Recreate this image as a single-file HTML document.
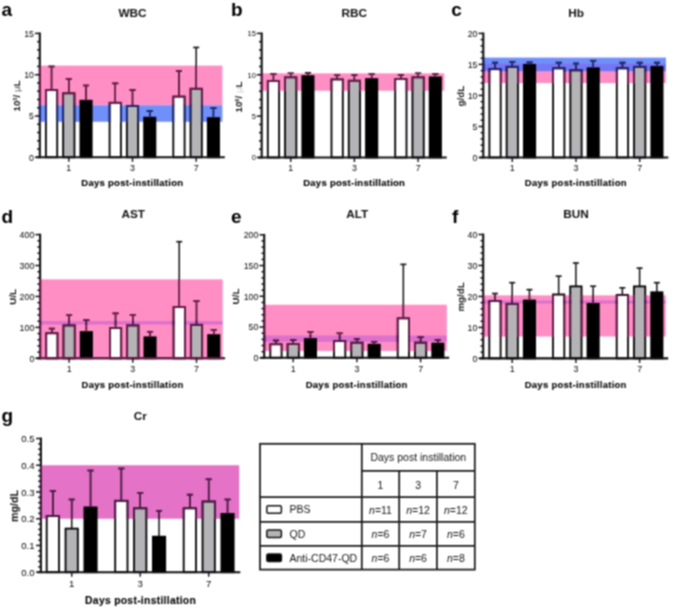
<!DOCTYPE html>
<html><head><meta charset="utf-8"><style>
html,body{margin:0;padding:0;background:#fff;width:675px;height:608px;overflow:hidden}
svg{display:block}
</style></head><body>
<svg width="675" height="608" viewBox="0 0 675 608" font-family='"Liberation Sans", sans-serif'>
<defs><filter id="bl" x="0" y="0" width="1" height="1" color-interpolation-filters="sRGB"><feConvolveMatrix order="3" kernelMatrix="1 2 1 2 4 2 1 2 1" divisor="16" edgeMode="duplicate"/></filter></defs>
<g filter="url(#bl)">
<rect width="675" height="608" fill="#fff"/>
<rect x="39.8" y="65.61" width="182.6" height="39.65" fill="#ff8ec4"/>
<rect x="39.8" y="105.26" width="182.6" height="16.52" fill="#708ffa"/>
<line x1="51.55" y1="89.98" x2="51.55" y2="66.44" stroke="#111" stroke-width="1.5"/>
<line x1="48.55" y1="66.44" x2="54.55" y2="66.44" stroke="#111" stroke-width="1.6"/>
<rect x="45.9" y="89.98" width="11.3" height="67.32" fill="#ffffff" stroke="#000" stroke-width="1.8"/>
<line x1="68.8" y1="93.29" x2="68.8" y2="78.83" stroke="#111" stroke-width="1.5"/>
<line x1="65.8" y1="78.83" x2="71.8" y2="78.83" stroke="#111" stroke-width="1.6"/>
<rect x="63.15" y="93.29" width="11.3" height="64.02" fill="#b4b4b6" stroke="#000" stroke-width="1.8"/>
<line x1="86.05" y1="100.72" x2="86.05" y2="85.44" stroke="#111" stroke-width="1.5"/>
<line x1="83.05" y1="85.44" x2="89.05" y2="85.44" stroke="#111" stroke-width="1.6"/>
<rect x="80.4" y="100.72" width="11.3" height="56.58" fill="#000000" stroke="#000" stroke-width="1.8"/>
<line x1="115.25" y1="102.78" x2="115.25" y2="83.37" stroke="#111" stroke-width="1.5"/>
<line x1="112.25" y1="83.37" x2="118.25" y2="83.37" stroke="#111" stroke-width="1.6"/>
<rect x="109.6" y="102.78" width="11.3" height="54.52" fill="#ffffff" stroke="#000" stroke-width="1.8"/>
<line x1="132.5" y1="106.09" x2="132.5" y2="89.98" stroke="#111" stroke-width="1.5"/>
<line x1="129.5" y1="89.98" x2="135.5" y2="89.98" stroke="#111" stroke-width="1.6"/>
<rect x="126.85" y="106.09" width="11.3" height="51.21" fill="#b4b4b6" stroke="#000" stroke-width="1.8"/>
<line x1="149.75" y1="117.65" x2="149.75" y2="111.04" stroke="#111" stroke-width="1.5"/>
<line x1="146.75" y1="111.04" x2="152.75" y2="111.04" stroke="#111" stroke-width="1.6"/>
<rect x="144.1" y="117.65" width="11.3" height="39.65" fill="#000000" stroke="#000" stroke-width="1.8"/>
<line x1="178.95" y1="96.59" x2="178.95" y2="70.98" stroke="#111" stroke-width="1.5"/>
<line x1="175.95" y1="70.98" x2="181.95" y2="70.98" stroke="#111" stroke-width="1.6"/>
<rect x="173.3" y="96.59" width="11.3" height="60.71" fill="#ffffff" stroke="#000" stroke-width="1.8"/>
<line x1="196.2" y1="88.74" x2="196.2" y2="47.44" stroke="#111" stroke-width="1.5"/>
<line x1="193.2" y1="47.44" x2="199.2" y2="47.44" stroke="#111" stroke-width="1.6"/>
<rect x="190.55" y="88.74" width="11.3" height="68.56" fill="#b4b4b6" stroke="#000" stroke-width="1.8"/>
<line x1="213.45" y1="118.07" x2="213.45" y2="108.15" stroke="#111" stroke-width="1.5"/>
<line x1="210.45" y1="108.15" x2="216.45" y2="108.15" stroke="#111" stroke-width="1.6"/>
<rect x="207.8" y="118.07" width="11.3" height="39.23" fill="#000000" stroke="#000" stroke-width="1.8"/>
<line x1="39.8" y1="32.5" x2="39.8" y2="158.2" stroke="#111" stroke-width="2.1"/>
<line x1="36.3" y1="157.3" x2="224.8" y2="157.3" stroke="#111" stroke-width="2.1"/>
<clipPath id="c1"><rect x="38.3" y="65.11" width="184.6" height="40.65"/></clipPath>
<g clip-path="url(#c1)" stroke="#6a1c4c" fill="none"><line x1="51.55" y1="89.98" x2="51.55" y2="66.44" stroke-width="1.5"/><line x1="48.55" y1="66.44" x2="54.55" y2="66.44" stroke-width="1.6"/><rect x="45.9" y="89.98" width="11.3" height="67.32" fill="none" stroke-width="1.8"/><line x1="68.8" y1="93.29" x2="68.8" y2="78.83" stroke-width="1.5"/><line x1="65.8" y1="78.83" x2="71.8" y2="78.83" stroke-width="1.6"/><rect x="63.15" y="93.29" width="11.3" height="64.02" fill="none" stroke-width="1.8"/><line x1="86.05" y1="100.72" x2="86.05" y2="85.44" stroke-width="1.5"/><line x1="83.05" y1="85.44" x2="89.05" y2="85.44" stroke-width="1.6"/><line x1="115.25" y1="102.78" x2="115.25" y2="83.37" stroke-width="1.5"/><line x1="112.25" y1="83.37" x2="118.25" y2="83.37" stroke-width="1.6"/><rect x="109.6" y="102.78" width="11.3" height="54.52" fill="none" stroke-width="1.8"/><line x1="132.5" y1="106.09" x2="132.5" y2="89.98" stroke-width="1.5"/><line x1="129.5" y1="89.98" x2="135.5" y2="89.98" stroke-width="1.6"/><rect x="126.85" y="106.09" width="11.3" height="51.21" fill="none" stroke-width="1.8"/><line x1="149.75" y1="117.65" x2="149.75" y2="111.04" stroke-width="1.5"/><line x1="146.75" y1="111.04" x2="152.75" y2="111.04" stroke-width="1.6"/><line x1="178.95" y1="96.59" x2="178.95" y2="70.98" stroke-width="1.5"/><line x1="175.95" y1="70.98" x2="181.95" y2="70.98" stroke-width="1.6"/><rect x="173.3" y="96.59" width="11.3" height="60.71" fill="none" stroke-width="1.8"/><line x1="196.2" y1="88.74" x2="196.2" y2="47.44" stroke-width="1.5"/><line x1="193.2" y1="47.44" x2="199.2" y2="47.44" stroke-width="1.6"/><rect x="190.55" y="88.74" width="11.3" height="68.56" fill="none" stroke-width="1.8"/><line x1="213.45" y1="118.07" x2="213.45" y2="108.15" stroke-width="1.5"/><line x1="210.45" y1="108.15" x2="216.45" y2="108.15" stroke-width="1.6"/><line x1="39.8" y1="32.5" x2="39.8" y2="158.2" stroke-width="2.1"/><line x1="36.3" y1="157.3" x2="224.8" y2="157.3" stroke-width="2.1"/></g>
<clipPath id="c2"><rect x="38.3" y="104.76" width="184.6" height="17.52"/></clipPath>
<g clip-path="url(#c2)" stroke="#1e2a70" fill="none"><line x1="51.55" y1="89.98" x2="51.55" y2="66.44" stroke-width="1.5"/><line x1="48.55" y1="66.44" x2="54.55" y2="66.44" stroke-width="1.6"/><rect x="45.9" y="89.98" width="11.3" height="67.32" fill="none" stroke-width="1.8"/><line x1="68.8" y1="93.29" x2="68.8" y2="78.83" stroke-width="1.5"/><line x1="65.8" y1="78.83" x2="71.8" y2="78.83" stroke-width="1.6"/><rect x="63.15" y="93.29" width="11.3" height="64.02" fill="none" stroke-width="1.8"/><line x1="86.05" y1="100.72" x2="86.05" y2="85.44" stroke-width="1.5"/><line x1="83.05" y1="85.44" x2="89.05" y2="85.44" stroke-width="1.6"/><line x1="115.25" y1="102.78" x2="115.25" y2="83.37" stroke-width="1.5"/><line x1="112.25" y1="83.37" x2="118.25" y2="83.37" stroke-width="1.6"/><rect x="109.6" y="102.78" width="11.3" height="54.52" fill="none" stroke-width="1.8"/><line x1="132.5" y1="106.09" x2="132.5" y2="89.98" stroke-width="1.5"/><line x1="129.5" y1="89.98" x2="135.5" y2="89.98" stroke-width="1.6"/><rect x="126.85" y="106.09" width="11.3" height="51.21" fill="none" stroke-width="1.8"/><line x1="149.75" y1="117.65" x2="149.75" y2="111.04" stroke-width="1.5"/><line x1="146.75" y1="111.04" x2="152.75" y2="111.04" stroke-width="1.6"/><line x1="178.95" y1="96.59" x2="178.95" y2="70.98" stroke-width="1.5"/><line x1="175.95" y1="70.98" x2="181.95" y2="70.98" stroke-width="1.6"/><rect x="173.3" y="96.59" width="11.3" height="60.71" fill="none" stroke-width="1.8"/><line x1="196.2" y1="88.74" x2="196.2" y2="47.44" stroke-width="1.5"/><line x1="193.2" y1="47.44" x2="199.2" y2="47.44" stroke-width="1.6"/><rect x="190.55" y="88.74" width="11.3" height="68.56" fill="none" stroke-width="1.8"/><line x1="213.45" y1="118.07" x2="213.45" y2="108.15" stroke-width="1.5"/><line x1="210.45" y1="108.15" x2="216.45" y2="108.15" stroke-width="1.6"/><line x1="39.8" y1="32.5" x2="39.8" y2="158.2" stroke-width="2.1"/><line x1="36.3" y1="157.3" x2="224.8" y2="157.3" stroke-width="2.1"/></g>
<line x1="35" y1="157.3" x2="39.8" y2="157.3" stroke="#111" stroke-width="1.5"/>
<text x="34" y="160.6" font-size="8.8" font-weight="normal" text-anchor="end" fill="#000" >0</text>
<line x1="37.1" y1="149.04" x2="39.8" y2="149.04" stroke="#111" stroke-width="1.5"/>
<line x1="37.1" y1="140.78" x2="39.8" y2="140.78" stroke="#111" stroke-width="1.5"/>
<line x1="37.1" y1="132.52" x2="39.8" y2="132.52" stroke="#111" stroke-width="1.5"/>
<line x1="37.1" y1="124.26" x2="39.8" y2="124.26" stroke="#111" stroke-width="1.5"/>
<line x1="35" y1="116" x2="39.8" y2="116" stroke="#111" stroke-width="1.5"/>
<text x="34" y="119.3" font-size="8.8" font-weight="normal" text-anchor="end" fill="#000" >5</text>
<line x1="37.1" y1="107.74" x2="39.8" y2="107.74" stroke="#111" stroke-width="1.5"/>
<line x1="37.1" y1="99.48" x2="39.8" y2="99.48" stroke="#111" stroke-width="1.5"/>
<line x1="37.1" y1="91.22" x2="39.8" y2="91.22" stroke="#111" stroke-width="1.5"/>
<line x1="37.1" y1="82.96" x2="39.8" y2="82.96" stroke="#111" stroke-width="1.5"/>
<line x1="35" y1="74.7" x2="39.8" y2="74.7" stroke="#111" stroke-width="1.5"/>
<text x="34" y="78" font-size="8.8" font-weight="normal" text-anchor="end" fill="#000" >10</text>
<line x1="37.1" y1="66.44" x2="39.8" y2="66.44" stroke="#111" stroke-width="1.5"/>
<line x1="37.1" y1="58.18" x2="39.8" y2="58.18" stroke="#111" stroke-width="1.5"/>
<line x1="37.1" y1="49.92" x2="39.8" y2="49.92" stroke="#111" stroke-width="1.5"/>
<line x1="37.1" y1="41.66" x2="39.8" y2="41.66" stroke="#111" stroke-width="1.5"/>
<line x1="35" y1="33.4" x2="39.8" y2="33.4" stroke="#111" stroke-width="1.5"/>
<text x="34" y="36.7" font-size="8.8" font-weight="normal" text-anchor="end" fill="#000" >15</text>
<line x1="68.8" y1="157.3" x2="68.8" y2="161.8" stroke="#111" stroke-width="1.4"/>
<text x="68.8" y="171.1" font-size="8.8" font-weight="normal" text-anchor="middle" fill="#000" >1</text>
<line x1="132.5" y1="157.3" x2="132.5" y2="161.8" stroke="#111" stroke-width="1.4"/>
<text x="132.5" y="171.1" font-size="8.8" font-weight="normal" text-anchor="middle" fill="#000" >3</text>
<line x1="196.2" y1="157.3" x2="196.2" y2="161.8" stroke="#111" stroke-width="1.4"/>
<text x="196.2" y="171.1" font-size="8.8" font-weight="normal" text-anchor="middle" fill="#000" >7</text>
<text x="132.3" y="186.4" font-size="9.5" font-weight="bold" text-anchor="middle" fill="#000" letter-spacing="0.27" stroke="#000" stroke-width="0.1">Days post-instillation</text>
<text x="132.5" y="17" font-size="11.8" font-weight="bold" text-anchor="middle" fill="#111" >WBC</text>
<text x="1.5" y="16" font-size="19" font-weight="bold" text-anchor="start" fill="#000" >a</text>
<text transform="translate(19.8,96) rotate(-90)" x="0" y="0" font-size="9.8" font-weight="bold" text-anchor="middle" fill="#111">10<tspan font-size="5.5" dy="-3">3</tspan><tspan dy="3">/ </tspan><tspan font-weight="normal" fill="#555">μ</tspan>L</text>
<rect x="261.7" y="73.36" width="182.6" height="17.37" fill="#ff8ec4"/>
<line x1="273.45" y1="80.89" x2="273.45" y2="73.86" stroke="#111" stroke-width="1.5"/>
<line x1="270.45" y1="73.86" x2="276.45" y2="73.86" stroke="#111" stroke-width="1.6"/>
<rect x="267.8" y="80.89" width="11.3" height="76.61" fill="#ffffff" stroke="#000" stroke-width="1.8"/>
<line x1="290.7" y1="77.33" x2="290.7" y2="73.19" stroke="#111" stroke-width="1.5"/>
<line x1="287.7" y1="73.19" x2="293.7" y2="73.19" stroke="#111" stroke-width="1.6"/>
<rect x="285.05" y="77.33" width="11.3" height="80.17" fill="#b4b4b6" stroke="#000" stroke-width="1.8"/>
<line x1="307.95" y1="76.09" x2="307.95" y2="72.78" stroke="#111" stroke-width="1.5"/>
<line x1="304.95" y1="72.78" x2="310.95" y2="72.78" stroke="#111" stroke-width="1.6"/>
<rect x="302.3" y="76.09" width="11.3" height="81.41" fill="#000000" stroke="#000" stroke-width="1.8"/>
<line x1="337.15" y1="79.4" x2="337.15" y2="75.26" stroke="#111" stroke-width="1.5"/>
<line x1="334.15" y1="75.26" x2="340.15" y2="75.26" stroke="#111" stroke-width="1.6"/>
<rect x="331.5" y="79.4" width="11.3" height="78.1" fill="#ffffff" stroke="#000" stroke-width="1.8"/>
<line x1="354.4" y1="80.72" x2="354.4" y2="74.93" stroke="#111" stroke-width="1.5"/>
<line x1="351.4" y1="74.93" x2="357.4" y2="74.93" stroke="#111" stroke-width="1.6"/>
<rect x="348.75" y="80.72" width="11.3" height="76.78" fill="#b4b4b6" stroke="#000" stroke-width="1.8"/>
<line x1="371.65" y1="79.07" x2="371.65" y2="74.1" stroke="#111" stroke-width="1.5"/>
<line x1="368.65" y1="74.1" x2="374.65" y2="74.1" stroke="#111" stroke-width="1.6"/>
<rect x="366" y="79.07" width="11.3" height="78.43" fill="#000000" stroke="#000" stroke-width="1.8"/>
<line x1="400.85" y1="79.07" x2="400.85" y2="74.93" stroke="#111" stroke-width="1.5"/>
<line x1="397.85" y1="74.93" x2="403.85" y2="74.93" stroke="#111" stroke-width="1.6"/>
<rect x="395.2" y="79.07" width="11.3" height="78.43" fill="#ffffff" stroke="#000" stroke-width="1.8"/>
<line x1="418.1" y1="77.33" x2="418.1" y2="73.19" stroke="#111" stroke-width="1.5"/>
<line x1="415.1" y1="73.19" x2="421.1" y2="73.19" stroke="#111" stroke-width="1.6"/>
<rect x="412.45" y="77.33" width="11.3" height="80.17" fill="#b4b4b6" stroke="#000" stroke-width="1.8"/>
<line x1="435.35" y1="77.33" x2="435.35" y2="74.02" stroke="#111" stroke-width="1.5"/>
<line x1="432.35" y1="74.02" x2="438.35" y2="74.02" stroke="#111" stroke-width="1.6"/>
<rect x="429.7" y="77.33" width="11.3" height="80.17" fill="#000000" stroke="#000" stroke-width="1.8"/>
<line x1="261.7" y1="32.5" x2="261.7" y2="158.4" stroke="#111" stroke-width="2.1"/>
<line x1="258.2" y1="157.5" x2="446.7" y2="157.5" stroke="#111" stroke-width="2.1"/>
<clipPath id="c3"><rect x="260.2" y="72.86" width="184.6" height="18.37"/></clipPath>
<g clip-path="url(#c3)" stroke="#6a1c4c" fill="none"><line x1="273.45" y1="80.89" x2="273.45" y2="73.86" stroke-width="1.5"/><line x1="270.45" y1="73.86" x2="276.45" y2="73.86" stroke-width="1.6"/><rect x="267.8" y="80.89" width="11.3" height="76.61" fill="none" stroke-width="1.8"/><line x1="290.7" y1="77.33" x2="290.7" y2="73.19" stroke-width="1.5"/><line x1="287.7" y1="73.19" x2="293.7" y2="73.19" stroke-width="1.6"/><rect x="285.05" y="77.33" width="11.3" height="80.17" fill="none" stroke-width="1.8"/><line x1="307.95" y1="76.09" x2="307.95" y2="72.78" stroke-width="1.5"/><line x1="304.95" y1="72.78" x2="310.95" y2="72.78" stroke-width="1.6"/><line x1="337.15" y1="79.4" x2="337.15" y2="75.26" stroke-width="1.5"/><line x1="334.15" y1="75.26" x2="340.15" y2="75.26" stroke-width="1.6"/><rect x="331.5" y="79.4" width="11.3" height="78.1" fill="none" stroke-width="1.8"/><line x1="354.4" y1="80.72" x2="354.4" y2="74.93" stroke-width="1.5"/><line x1="351.4" y1="74.93" x2="357.4" y2="74.93" stroke-width="1.6"/><rect x="348.75" y="80.72" width="11.3" height="76.78" fill="none" stroke-width="1.8"/><line x1="371.65" y1="79.07" x2="371.65" y2="74.1" stroke-width="1.5"/><line x1="368.65" y1="74.1" x2="374.65" y2="74.1" stroke-width="1.6"/><line x1="400.85" y1="79.07" x2="400.85" y2="74.93" stroke-width="1.5"/><line x1="397.85" y1="74.93" x2="403.85" y2="74.93" stroke-width="1.6"/><rect x="395.2" y="79.07" width="11.3" height="78.43" fill="none" stroke-width="1.8"/><line x1="418.1" y1="77.33" x2="418.1" y2="73.19" stroke-width="1.5"/><line x1="415.1" y1="73.19" x2="421.1" y2="73.19" stroke-width="1.6"/><rect x="412.45" y="77.33" width="11.3" height="80.17" fill="none" stroke-width="1.8"/><line x1="435.35" y1="77.33" x2="435.35" y2="74.02" stroke-width="1.5"/><line x1="432.35" y1="74.02" x2="438.35" y2="74.02" stroke-width="1.6"/><line x1="261.7" y1="32.5" x2="261.7" y2="158.4" stroke-width="2.1"/><line x1="258.2" y1="157.5" x2="446.7" y2="157.5" stroke-width="2.1"/></g>
<line x1="256.9" y1="157.5" x2="261.7" y2="157.5" stroke="#111" stroke-width="1.5"/>
<text x="255.9" y="160.35" font-size="7.6" font-weight="normal" text-anchor="end" fill="#000" >0</text>
<line x1="259" y1="149.23" x2="261.7" y2="149.23" stroke="#111" stroke-width="1.5"/>
<line x1="259" y1="140.95" x2="261.7" y2="140.95" stroke="#111" stroke-width="1.5"/>
<line x1="259" y1="132.68" x2="261.7" y2="132.68" stroke="#111" stroke-width="1.5"/>
<line x1="259" y1="124.41" x2="261.7" y2="124.41" stroke="#111" stroke-width="1.5"/>
<line x1="256.9" y1="116.13" x2="261.7" y2="116.13" stroke="#111" stroke-width="1.5"/>
<text x="255.9" y="118.98" font-size="7.6" font-weight="normal" text-anchor="end" fill="#000" >5</text>
<line x1="259" y1="107.86" x2="261.7" y2="107.86" stroke="#111" stroke-width="1.5"/>
<line x1="259" y1="99.59" x2="261.7" y2="99.59" stroke="#111" stroke-width="1.5"/>
<line x1="259" y1="91.31" x2="261.7" y2="91.31" stroke="#111" stroke-width="1.5"/>
<line x1="259" y1="83.04" x2="261.7" y2="83.04" stroke="#111" stroke-width="1.5"/>
<line x1="256.9" y1="74.77" x2="261.7" y2="74.77" stroke="#111" stroke-width="1.5"/>
<text x="255.9" y="77.62" font-size="7.6" font-weight="normal" text-anchor="end" fill="#000" >10</text>
<line x1="259" y1="66.49" x2="261.7" y2="66.49" stroke="#111" stroke-width="1.5"/>
<line x1="259" y1="58.22" x2="261.7" y2="58.22" stroke="#111" stroke-width="1.5"/>
<line x1="259" y1="49.95" x2="261.7" y2="49.95" stroke="#111" stroke-width="1.5"/>
<line x1="259" y1="41.67" x2="261.7" y2="41.67" stroke="#111" stroke-width="1.5"/>
<line x1="256.9" y1="33.4" x2="261.7" y2="33.4" stroke="#111" stroke-width="1.5"/>
<text x="255.9" y="36.25" font-size="7.6" font-weight="normal" text-anchor="end" fill="#000" >15</text>
<line x1="290.7" y1="157.5" x2="290.7" y2="162" stroke="#111" stroke-width="1.4"/>
<text x="290.7" y="171.3" font-size="8.8" font-weight="normal" text-anchor="middle" fill="#000" >1</text>
<line x1="354.4" y1="157.5" x2="354.4" y2="162" stroke="#111" stroke-width="1.4"/>
<text x="354.4" y="171.3" font-size="8.8" font-weight="normal" text-anchor="middle" fill="#000" >3</text>
<line x1="418.1" y1="157.5" x2="418.1" y2="162" stroke="#111" stroke-width="1.4"/>
<text x="418.1" y="171.3" font-size="8.8" font-weight="normal" text-anchor="middle" fill="#000" >7</text>
<text x="354.2" y="186.4" font-size="9.5" font-weight="bold" text-anchor="middle" fill="#000" letter-spacing="0.27" stroke="#000" stroke-width="0.1">Days post-instillation</text>
<text x="354.3" y="17" font-size="11.8" font-weight="bold" text-anchor="middle" fill="#111" >RBC</text>
<text x="231" y="16" font-size="19" font-weight="bold" text-anchor="start" fill="#000" >b</text>
<text transform="translate(241.8,97) rotate(-90)" x="0" y="0" font-size="9.8" font-weight="bold" text-anchor="middle" fill="#111">10<tspan font-size="5.5" dy="-3">6</tspan><tspan dy="3">/ </tspan><tspan font-weight="normal" fill="#ccc">μ</tspan>L</text>
<rect x="483.3" y="71.25" width="182.6" height="11.79" fill="#ff8ec4"/>
<rect x="483.3" y="57.6" width="182.6" height="13.65" fill="#708ffa"/>
<rect x="483.3" y="63.8" width="182.6" height="7.45" fill="#7676f2"/>
<line x1="495.05" y1="69.14" x2="495.05" y2="62.63" stroke="#111" stroke-width="1.5"/>
<line x1="492.05" y1="62.63" x2="498.05" y2="62.63" stroke="#111" stroke-width="1.6"/>
<rect x="489.4" y="69.14" width="11.3" height="88.36" fill="#ffffff" stroke="#000" stroke-width="1.8"/>
<line x1="512.3" y1="66.84" x2="512.3" y2="61.76" stroke="#111" stroke-width="1.5"/>
<line x1="509.3" y1="61.76" x2="515.3" y2="61.76" stroke="#111" stroke-width="1.6"/>
<rect x="506.65" y="66.84" width="11.3" height="90.66" fill="#b4b4b6" stroke="#000" stroke-width="1.8"/>
<line x1="529.55" y1="64.86" x2="529.55" y2="62.38" stroke="#111" stroke-width="1.5"/>
<line x1="526.55" y1="62.38" x2="532.55" y2="62.38" stroke="#111" stroke-width="1.6"/>
<rect x="523.9" y="64.86" width="11.3" height="92.64" fill="#000000" stroke="#000" stroke-width="1.8"/>
<line x1="558.75" y1="68.27" x2="558.75" y2="62.63" stroke="#111" stroke-width="1.5"/>
<line x1="555.75" y1="62.63" x2="561.75" y2="62.63" stroke="#111" stroke-width="1.6"/>
<rect x="553.1" y="68.27" width="11.3" height="89.23" fill="#ffffff" stroke="#000" stroke-width="1.8"/>
<line x1="576" y1="70.26" x2="576" y2="63.43" stroke="#111" stroke-width="1.5"/>
<line x1="573" y1="63.43" x2="579" y2="63.43" stroke="#111" stroke-width="1.6"/>
<rect x="570.35" y="70.26" width="11.3" height="87.24" fill="#b4b4b6" stroke="#000" stroke-width="1.8"/>
<line x1="593.25" y1="68.27" x2="593.25" y2="60.7" stroke="#111" stroke-width="1.5"/>
<line x1="590.25" y1="60.7" x2="596.25" y2="60.7" stroke="#111" stroke-width="1.6"/>
<rect x="587.6" y="68.27" width="11.3" height="89.23" fill="#000000" stroke="#000" stroke-width="1.8"/>
<line x1="622.45" y1="68.27" x2="622.45" y2="62.63" stroke="#111" stroke-width="1.5"/>
<line x1="619.45" y1="62.63" x2="625.45" y2="62.63" stroke="#111" stroke-width="1.6"/>
<rect x="616.8" y="68.27" width="11.3" height="89.23" fill="#ffffff" stroke="#000" stroke-width="1.8"/>
<line x1="639.7" y1="66.84" x2="639.7" y2="62.63" stroke="#111" stroke-width="1.5"/>
<line x1="636.7" y1="62.63" x2="642.7" y2="62.63" stroke="#111" stroke-width="1.6"/>
<rect x="634.05" y="66.84" width="11.3" height="90.66" fill="#b4b4b6" stroke="#000" stroke-width="1.8"/>
<line x1="656.95" y1="66.84" x2="656.95" y2="62.63" stroke="#111" stroke-width="1.5"/>
<line x1="653.95" y1="62.63" x2="659.95" y2="62.63" stroke="#111" stroke-width="1.6"/>
<rect x="651.3" y="66.84" width="11.3" height="90.66" fill="#000000" stroke="#000" stroke-width="1.8"/>
<line x1="483.3" y1="32.5" x2="483.3" y2="158.4" stroke="#111" stroke-width="2.1"/>
<line x1="479.8" y1="157.5" x2="668.3" y2="157.5" stroke="#111" stroke-width="2.1"/>
<clipPath id="c4"><rect x="481.8" y="70.75" width="184.6" height="12.79"/></clipPath>
<g clip-path="url(#c4)" stroke="#6a1c4c" fill="none"><line x1="495.05" y1="69.14" x2="495.05" y2="62.63" stroke-width="1.5"/><line x1="492.05" y1="62.63" x2="498.05" y2="62.63" stroke-width="1.6"/><rect x="489.4" y="69.14" width="11.3" height="88.36" fill="none" stroke-width="1.8"/><line x1="512.3" y1="66.84" x2="512.3" y2="61.76" stroke-width="1.5"/><line x1="509.3" y1="61.76" x2="515.3" y2="61.76" stroke-width="1.6"/><rect x="506.65" y="66.84" width="11.3" height="90.66" fill="none" stroke-width="1.8"/><line x1="529.55" y1="64.86" x2="529.55" y2="62.38" stroke-width="1.5"/><line x1="526.55" y1="62.38" x2="532.55" y2="62.38" stroke-width="1.6"/><line x1="558.75" y1="68.27" x2="558.75" y2="62.63" stroke-width="1.5"/><line x1="555.75" y1="62.63" x2="561.75" y2="62.63" stroke-width="1.6"/><rect x="553.1" y="68.27" width="11.3" height="89.23" fill="none" stroke-width="1.8"/><line x1="576" y1="70.26" x2="576" y2="63.43" stroke-width="1.5"/><line x1="573" y1="63.43" x2="579" y2="63.43" stroke-width="1.6"/><rect x="570.35" y="70.26" width="11.3" height="87.24" fill="none" stroke-width="1.8"/><line x1="593.25" y1="68.27" x2="593.25" y2="60.7" stroke-width="1.5"/><line x1="590.25" y1="60.7" x2="596.25" y2="60.7" stroke-width="1.6"/><line x1="622.45" y1="68.27" x2="622.45" y2="62.63" stroke-width="1.5"/><line x1="619.45" y1="62.63" x2="625.45" y2="62.63" stroke-width="1.6"/><rect x="616.8" y="68.27" width="11.3" height="89.23" fill="none" stroke-width="1.8"/><line x1="639.7" y1="66.84" x2="639.7" y2="62.63" stroke-width="1.5"/><line x1="636.7" y1="62.63" x2="642.7" y2="62.63" stroke-width="1.6"/><rect x="634.05" y="66.84" width="11.3" height="90.66" fill="none" stroke-width="1.8"/><line x1="656.95" y1="66.84" x2="656.95" y2="62.63" stroke-width="1.5"/><line x1="653.95" y1="62.63" x2="659.95" y2="62.63" stroke-width="1.6"/><line x1="483.3" y1="32.5" x2="483.3" y2="158.4" stroke-width="2.1"/><line x1="479.8" y1="157.5" x2="668.3" y2="157.5" stroke-width="2.1"/></g>
<clipPath id="c5"><rect x="481.8" y="57.1" width="184.6" height="14.65"/></clipPath>
<g clip-path="url(#c5)" stroke="#1e2a70" fill="none"><line x1="495.05" y1="69.14" x2="495.05" y2="62.63" stroke-width="1.5"/><line x1="492.05" y1="62.63" x2="498.05" y2="62.63" stroke-width="1.6"/><rect x="489.4" y="69.14" width="11.3" height="88.36" fill="none" stroke-width="1.8"/><line x1="512.3" y1="66.84" x2="512.3" y2="61.76" stroke-width="1.5"/><line x1="509.3" y1="61.76" x2="515.3" y2="61.76" stroke-width="1.6"/><rect x="506.65" y="66.84" width="11.3" height="90.66" fill="none" stroke-width="1.8"/><line x1="529.55" y1="64.86" x2="529.55" y2="62.38" stroke-width="1.5"/><line x1="526.55" y1="62.38" x2="532.55" y2="62.38" stroke-width="1.6"/><line x1="558.75" y1="68.27" x2="558.75" y2="62.63" stroke-width="1.5"/><line x1="555.75" y1="62.63" x2="561.75" y2="62.63" stroke-width="1.6"/><rect x="553.1" y="68.27" width="11.3" height="89.23" fill="none" stroke-width="1.8"/><line x1="576" y1="70.26" x2="576" y2="63.43" stroke-width="1.5"/><line x1="573" y1="63.43" x2="579" y2="63.43" stroke-width="1.6"/><rect x="570.35" y="70.26" width="11.3" height="87.24" fill="none" stroke-width="1.8"/><line x1="593.25" y1="68.27" x2="593.25" y2="60.7" stroke-width="1.5"/><line x1="590.25" y1="60.7" x2="596.25" y2="60.7" stroke-width="1.6"/><line x1="622.45" y1="68.27" x2="622.45" y2="62.63" stroke-width="1.5"/><line x1="619.45" y1="62.63" x2="625.45" y2="62.63" stroke-width="1.6"/><rect x="616.8" y="68.27" width="11.3" height="89.23" fill="none" stroke-width="1.8"/><line x1="639.7" y1="66.84" x2="639.7" y2="62.63" stroke-width="1.5"/><line x1="636.7" y1="62.63" x2="642.7" y2="62.63" stroke-width="1.6"/><rect x="634.05" y="66.84" width="11.3" height="90.66" fill="none" stroke-width="1.8"/><line x1="656.95" y1="66.84" x2="656.95" y2="62.63" stroke-width="1.5"/><line x1="653.95" y1="62.63" x2="659.95" y2="62.63" stroke-width="1.6"/><line x1="483.3" y1="32.5" x2="483.3" y2="158.4" stroke-width="2.1"/><line x1="479.8" y1="157.5" x2="668.3" y2="157.5" stroke-width="2.1"/></g>
<clipPath id="c6"><rect x="481.8" y="63.3" width="184.6" height="8.45"/></clipPath>
<g clip-path="url(#c6)" stroke="#2a2470" fill="none"><line x1="495.05" y1="69.14" x2="495.05" y2="62.63" stroke-width="1.5"/><line x1="492.05" y1="62.63" x2="498.05" y2="62.63" stroke-width="1.6"/><rect x="489.4" y="69.14" width="11.3" height="88.36" fill="none" stroke-width="1.8"/><line x1="512.3" y1="66.84" x2="512.3" y2="61.76" stroke-width="1.5"/><line x1="509.3" y1="61.76" x2="515.3" y2="61.76" stroke-width="1.6"/><rect x="506.65" y="66.84" width="11.3" height="90.66" fill="none" stroke-width="1.8"/><line x1="529.55" y1="64.86" x2="529.55" y2="62.38" stroke-width="1.5"/><line x1="526.55" y1="62.38" x2="532.55" y2="62.38" stroke-width="1.6"/><line x1="558.75" y1="68.27" x2="558.75" y2="62.63" stroke-width="1.5"/><line x1="555.75" y1="62.63" x2="561.75" y2="62.63" stroke-width="1.6"/><rect x="553.1" y="68.27" width="11.3" height="89.23" fill="none" stroke-width="1.8"/><line x1="576" y1="70.26" x2="576" y2="63.43" stroke-width="1.5"/><line x1="573" y1="63.43" x2="579" y2="63.43" stroke-width="1.6"/><rect x="570.35" y="70.26" width="11.3" height="87.24" fill="none" stroke-width="1.8"/><line x1="593.25" y1="68.27" x2="593.25" y2="60.7" stroke-width="1.5"/><line x1="590.25" y1="60.7" x2="596.25" y2="60.7" stroke-width="1.6"/><line x1="622.45" y1="68.27" x2="622.45" y2="62.63" stroke-width="1.5"/><line x1="619.45" y1="62.63" x2="625.45" y2="62.63" stroke-width="1.6"/><rect x="616.8" y="68.27" width="11.3" height="89.23" fill="none" stroke-width="1.8"/><line x1="639.7" y1="66.84" x2="639.7" y2="62.63" stroke-width="1.5"/><line x1="636.7" y1="62.63" x2="642.7" y2="62.63" stroke-width="1.6"/><rect x="634.05" y="66.84" width="11.3" height="90.66" fill="none" stroke-width="1.8"/><line x1="656.95" y1="66.84" x2="656.95" y2="62.63" stroke-width="1.5"/><line x1="653.95" y1="62.63" x2="659.95" y2="62.63" stroke-width="1.6"/><line x1="483.3" y1="32.5" x2="483.3" y2="158.4" stroke-width="2.1"/><line x1="479.8" y1="157.5" x2="668.3" y2="157.5" stroke-width="2.1"/></g>
<line x1="478.5" y1="157.5" x2="483.3" y2="157.5" stroke="#111" stroke-width="1.5"/>
<text x="477.5" y="160.8" font-size="8.8" font-weight="normal" text-anchor="end" fill="#000" >0</text>
<line x1="480.6" y1="151.29" x2="483.3" y2="151.29" stroke="#111" stroke-width="1.5"/>
<line x1="480.6" y1="145.09" x2="483.3" y2="145.09" stroke="#111" stroke-width="1.5"/>
<line x1="480.6" y1="138.88" x2="483.3" y2="138.88" stroke="#111" stroke-width="1.5"/>
<line x1="480.6" y1="132.68" x2="483.3" y2="132.68" stroke="#111" stroke-width="1.5"/>
<line x1="478.5" y1="126.47" x2="483.3" y2="126.47" stroke="#111" stroke-width="1.5"/>
<text x="477.5" y="129.78" font-size="8.8" font-weight="normal" text-anchor="end" fill="#000" >5</text>
<line x1="480.6" y1="120.27" x2="483.3" y2="120.27" stroke="#111" stroke-width="1.5"/>
<line x1="480.6" y1="114.06" x2="483.3" y2="114.06" stroke="#111" stroke-width="1.5"/>
<line x1="480.6" y1="107.86" x2="483.3" y2="107.86" stroke="#111" stroke-width="1.5"/>
<line x1="480.6" y1="101.66" x2="483.3" y2="101.66" stroke="#111" stroke-width="1.5"/>
<line x1="478.5" y1="95.45" x2="483.3" y2="95.45" stroke="#111" stroke-width="1.5"/>
<text x="477.5" y="98.75" font-size="8.8" font-weight="normal" text-anchor="end" fill="#000" >10</text>
<line x1="480.6" y1="89.25" x2="483.3" y2="89.25" stroke="#111" stroke-width="1.5"/>
<line x1="480.6" y1="83.04" x2="483.3" y2="83.04" stroke="#111" stroke-width="1.5"/>
<line x1="480.6" y1="76.83" x2="483.3" y2="76.83" stroke="#111" stroke-width="1.5"/>
<line x1="480.6" y1="70.63" x2="483.3" y2="70.63" stroke="#111" stroke-width="1.5"/>
<line x1="478.5" y1="64.42" x2="483.3" y2="64.42" stroke="#111" stroke-width="1.5"/>
<text x="477.5" y="67.72" font-size="8.8" font-weight="normal" text-anchor="end" fill="#000" >15</text>
<line x1="480.6" y1="58.22" x2="483.3" y2="58.22" stroke="#111" stroke-width="1.5"/>
<line x1="480.6" y1="52.02" x2="483.3" y2="52.02" stroke="#111" stroke-width="1.5"/>
<line x1="480.6" y1="45.81" x2="483.3" y2="45.81" stroke="#111" stroke-width="1.5"/>
<line x1="480.6" y1="39.61" x2="483.3" y2="39.61" stroke="#111" stroke-width="1.5"/>
<line x1="478.5" y1="33.4" x2="483.3" y2="33.4" stroke="#111" stroke-width="1.5"/>
<text x="477.5" y="36.7" font-size="8.8" font-weight="normal" text-anchor="end" fill="#000" >20</text>
<line x1="512.3" y1="157.5" x2="512.3" y2="162" stroke="#111" stroke-width="1.4"/>
<text x="512.3" y="171.3" font-size="8.8" font-weight="normal" text-anchor="middle" fill="#000" >1</text>
<line x1="576" y1="157.5" x2="576" y2="162" stroke="#111" stroke-width="1.4"/>
<text x="576" y="171.3" font-size="8.8" font-weight="normal" text-anchor="middle" fill="#000" >3</text>
<line x1="639.7" y1="157.5" x2="639.7" y2="162" stroke="#111" stroke-width="1.4"/>
<text x="639.7" y="171.3" font-size="8.8" font-weight="normal" text-anchor="middle" fill="#000" >7</text>
<text x="575.8" y="186.2" font-size="9.5" font-weight="bold" text-anchor="middle" fill="#000" letter-spacing="0.27" stroke="#000" stroke-width="0.1">Days post-instillation</text>
<text x="576" y="17" font-size="11.8" font-weight="bold" text-anchor="middle" fill="#111" >Hb</text>
<text x="451.2" y="16" font-size="19" font-weight="bold" text-anchor="start" fill="#000" >c</text>
<text transform="translate(463.5,96.2) rotate(-90)" x="0" y="0" font-size="9.8" font-weight="bold" text-anchor="middle" fill="#111">g/dL</text>
<rect x="40.1" y="279.35" width="182.6" height="78.95" fill="#ff8ec4"/>
<rect x="40.1" y="321.1" width="182.6" height="3.43" fill="#dc70cc"/>
<line x1="51.85" y1="333.25" x2="51.85" y2="328.58" stroke="#111" stroke-width="1.5"/>
<line x1="48.85" y1="328.58" x2="54.85" y2="328.58" stroke="#111" stroke-width="1.6"/>
<rect x="46.2" y="333.25" width="11.3" height="25.05" fill="#ffffff" stroke="#000" stroke-width="1.8"/>
<line x1="69.1" y1="325.46" x2="69.1" y2="315.19" stroke="#111" stroke-width="1.5"/>
<line x1="66.1" y1="315.19" x2="72.1" y2="315.19" stroke="#111" stroke-width="1.6"/>
<rect x="63.45" y="325.46" width="11.3" height="32.84" fill="#b4b4b6" stroke="#000" stroke-width="1.8"/>
<line x1="86.35" y1="332.01" x2="86.35" y2="320.17" stroke="#111" stroke-width="1.5"/>
<line x1="83.35" y1="320.17" x2="89.35" y2="320.17" stroke="#111" stroke-width="1.6"/>
<rect x="80.7" y="332.01" width="11.3" height="26.29" fill="#000000" stroke="#000" stroke-width="1.8"/>
<line x1="115.55" y1="327.96" x2="115.55" y2="313.34" stroke="#111" stroke-width="1.5"/>
<line x1="112.55" y1="313.34" x2="118.55" y2="313.34" stroke="#111" stroke-width="1.6"/>
<rect x="109.9" y="327.96" width="11.3" height="30.34" fill="#ffffff" stroke="#000" stroke-width="1.8"/>
<line x1="132.8" y1="325.46" x2="132.8" y2="314.88" stroke="#111" stroke-width="1.5"/>
<line x1="129.8" y1="314.88" x2="135.8" y2="314.88" stroke="#111" stroke-width="1.6"/>
<rect x="127.15" y="325.46" width="11.3" height="32.84" fill="#b4b4b6" stroke="#000" stroke-width="1.8"/>
<line x1="150.05" y1="337.3" x2="150.05" y2="331.7" stroke="#111" stroke-width="1.5"/>
<line x1="147.05" y1="331.7" x2="153.05" y2="331.7" stroke="#111" stroke-width="1.6"/>
<rect x="144.4" y="337.3" width="11.3" height="21" fill="#000000" stroke="#000" stroke-width="1.8"/>
<line x1="179.25" y1="307.09" x2="179.25" y2="241.68" stroke="#111" stroke-width="1.5"/>
<line x1="176.25" y1="241.68" x2="182.25" y2="241.68" stroke="#111" stroke-width="1.6"/>
<rect x="173.6" y="307.09" width="11.3" height="51.21" fill="#ffffff" stroke="#000" stroke-width="1.8"/>
<line x1="196.5" y1="324.84" x2="196.5" y2="301.15" stroke="#111" stroke-width="1.5"/>
<line x1="193.5" y1="301.15" x2="199.5" y2="301.15" stroke="#111" stroke-width="1.6"/>
<rect x="190.85" y="324.84" width="11.3" height="33.46" fill="#b4b4b6" stroke="#000" stroke-width="1.8"/>
<line x1="213.75" y1="335.11" x2="213.75" y2="329.82" stroke="#111" stroke-width="1.5"/>
<line x1="210.75" y1="329.82" x2="216.75" y2="329.82" stroke="#111" stroke-width="1.6"/>
<rect x="208.1" y="335.11" width="11.3" height="23.19" fill="#000000" stroke="#000" stroke-width="1.8"/>
<line x1="40.1" y1="233.7" x2="40.1" y2="359.2" stroke="#111" stroke-width="2.1"/>
<line x1="36.6" y1="358.3" x2="225.1" y2="358.3" stroke="#111" stroke-width="2.1"/>
<clipPath id="c7"><rect x="38.6" y="278.85" width="184.6" height="81.45"/></clipPath>
<g clip-path="url(#c7)" stroke="#6a1c4c" fill="none"><line x1="51.85" y1="333.25" x2="51.85" y2="328.58" stroke-width="1.5"/><line x1="48.85" y1="328.58" x2="54.85" y2="328.58" stroke-width="1.6"/><rect x="46.2" y="333.25" width="11.3" height="25.05" fill="none" stroke-width="1.8"/><line x1="69.1" y1="325.46" x2="69.1" y2="315.19" stroke-width="1.5"/><line x1="66.1" y1="315.19" x2="72.1" y2="315.19" stroke-width="1.6"/><rect x="63.45" y="325.46" width="11.3" height="32.84" fill="none" stroke-width="1.8"/><line x1="86.35" y1="332.01" x2="86.35" y2="320.17" stroke-width="1.5"/><line x1="83.35" y1="320.17" x2="89.35" y2="320.17" stroke-width="1.6"/><line x1="115.55" y1="327.96" x2="115.55" y2="313.34" stroke-width="1.5"/><line x1="112.55" y1="313.34" x2="118.55" y2="313.34" stroke-width="1.6"/><rect x="109.9" y="327.96" width="11.3" height="30.34" fill="none" stroke-width="1.8"/><line x1="132.8" y1="325.46" x2="132.8" y2="314.88" stroke-width="1.5"/><line x1="129.8" y1="314.88" x2="135.8" y2="314.88" stroke-width="1.6"/><rect x="127.15" y="325.46" width="11.3" height="32.84" fill="none" stroke-width="1.8"/><line x1="150.05" y1="337.3" x2="150.05" y2="331.7" stroke-width="1.5"/><line x1="147.05" y1="331.7" x2="153.05" y2="331.7" stroke-width="1.6"/><line x1="179.25" y1="307.09" x2="179.25" y2="241.68" stroke-width="1.5"/><line x1="176.25" y1="241.68" x2="182.25" y2="241.68" stroke-width="1.6"/><rect x="173.6" y="307.09" width="11.3" height="51.21" fill="none" stroke-width="1.8"/><line x1="196.5" y1="324.84" x2="196.5" y2="301.15" stroke-width="1.5"/><line x1="193.5" y1="301.15" x2="199.5" y2="301.15" stroke-width="1.6"/><rect x="190.85" y="324.84" width="11.3" height="33.46" fill="none" stroke-width="1.8"/><line x1="213.75" y1="335.11" x2="213.75" y2="329.82" stroke-width="1.5"/><line x1="210.75" y1="329.82" x2="216.75" y2="329.82" stroke-width="1.6"/><line x1="40.1" y1="233.7" x2="40.1" y2="359.2" stroke-width="2.1"/><line x1="36.6" y1="358.3" x2="225.1" y2="358.3" stroke-width="2.1"/></g>
<clipPath id="c8"><rect x="38.6" y="320.6" width="184.6" height="4.43"/></clipPath>
<g clip-path="url(#c8)" stroke="#501a50" fill="none"><line x1="51.85" y1="333.25" x2="51.85" y2="328.58" stroke-width="1.5"/><line x1="48.85" y1="328.58" x2="54.85" y2="328.58" stroke-width="1.6"/><rect x="46.2" y="333.25" width="11.3" height="25.05" fill="none" stroke-width="1.8"/><line x1="69.1" y1="325.46" x2="69.1" y2="315.19" stroke-width="1.5"/><line x1="66.1" y1="315.19" x2="72.1" y2="315.19" stroke-width="1.6"/><rect x="63.45" y="325.46" width="11.3" height="32.84" fill="none" stroke-width="1.8"/><line x1="86.35" y1="332.01" x2="86.35" y2="320.17" stroke-width="1.5"/><line x1="83.35" y1="320.17" x2="89.35" y2="320.17" stroke-width="1.6"/><line x1="115.55" y1="327.96" x2="115.55" y2="313.34" stroke-width="1.5"/><line x1="112.55" y1="313.34" x2="118.55" y2="313.34" stroke-width="1.6"/><rect x="109.9" y="327.96" width="11.3" height="30.34" fill="none" stroke-width="1.8"/><line x1="132.8" y1="325.46" x2="132.8" y2="314.88" stroke-width="1.5"/><line x1="129.8" y1="314.88" x2="135.8" y2="314.88" stroke-width="1.6"/><rect x="127.15" y="325.46" width="11.3" height="32.84" fill="none" stroke-width="1.8"/><line x1="150.05" y1="337.3" x2="150.05" y2="331.7" stroke-width="1.5"/><line x1="147.05" y1="331.7" x2="153.05" y2="331.7" stroke-width="1.6"/><line x1="179.25" y1="307.09" x2="179.25" y2="241.68" stroke-width="1.5"/><line x1="176.25" y1="241.68" x2="182.25" y2="241.68" stroke-width="1.6"/><rect x="173.6" y="307.09" width="11.3" height="51.21" fill="none" stroke-width="1.8"/><line x1="196.5" y1="324.84" x2="196.5" y2="301.15" stroke-width="1.5"/><line x1="193.5" y1="301.15" x2="199.5" y2="301.15" stroke-width="1.6"/><rect x="190.85" y="324.84" width="11.3" height="33.46" fill="none" stroke-width="1.8"/><line x1="213.75" y1="335.11" x2="213.75" y2="329.82" stroke-width="1.5"/><line x1="210.75" y1="329.82" x2="216.75" y2="329.82" stroke-width="1.6"/><line x1="40.1" y1="233.7" x2="40.1" y2="359.2" stroke-width="2.1"/><line x1="36.6" y1="358.3" x2="225.1" y2="358.3" stroke-width="2.1"/></g>
<line x1="35.3" y1="358.3" x2="40.1" y2="358.3" stroke="#111" stroke-width="1.5"/>
<text x="34.3" y="361.6" font-size="8.8" font-weight="normal" text-anchor="end" fill="#000" >0</text>
<line x1="37.4" y1="352.12" x2="40.1" y2="352.12" stroke="#111" stroke-width="1.5"/>
<line x1="37.4" y1="345.93" x2="40.1" y2="345.93" stroke="#111" stroke-width="1.5"/>
<line x1="37.4" y1="339.75" x2="40.1" y2="339.75" stroke="#111" stroke-width="1.5"/>
<line x1="37.4" y1="333.56" x2="40.1" y2="333.56" stroke="#111" stroke-width="1.5"/>
<line x1="35.3" y1="327.38" x2="40.1" y2="327.38" stroke="#111" stroke-width="1.5"/>
<text x="34.3" y="330.68" font-size="8.8" font-weight="normal" text-anchor="end" fill="#000" >100</text>
<line x1="37.4" y1="321.19" x2="40.1" y2="321.19" stroke="#111" stroke-width="1.5"/>
<line x1="37.4" y1="315" x2="40.1" y2="315" stroke="#111" stroke-width="1.5"/>
<line x1="37.4" y1="308.82" x2="40.1" y2="308.82" stroke="#111" stroke-width="1.5"/>
<line x1="37.4" y1="302.63" x2="40.1" y2="302.63" stroke="#111" stroke-width="1.5"/>
<line x1="35.3" y1="296.45" x2="40.1" y2="296.45" stroke="#111" stroke-width="1.5"/>
<text x="34.3" y="299.75" font-size="8.8" font-weight="normal" text-anchor="end" fill="#000" >200</text>
<line x1="37.4" y1="290.26" x2="40.1" y2="290.26" stroke="#111" stroke-width="1.5"/>
<line x1="37.4" y1="284.08" x2="40.1" y2="284.08" stroke="#111" stroke-width="1.5"/>
<line x1="37.4" y1="277.89" x2="40.1" y2="277.89" stroke="#111" stroke-width="1.5"/>
<line x1="37.4" y1="271.71" x2="40.1" y2="271.71" stroke="#111" stroke-width="1.5"/>
<line x1="35.3" y1="265.52" x2="40.1" y2="265.52" stroke="#111" stroke-width="1.5"/>
<text x="34.3" y="268.82" font-size="8.8" font-weight="normal" text-anchor="end" fill="#000" >300</text>
<line x1="37.4" y1="259.34" x2="40.1" y2="259.34" stroke="#111" stroke-width="1.5"/>
<line x1="37.4" y1="253.16" x2="40.1" y2="253.16" stroke="#111" stroke-width="1.5"/>
<line x1="37.4" y1="246.97" x2="40.1" y2="246.97" stroke="#111" stroke-width="1.5"/>
<line x1="37.4" y1="240.78" x2="40.1" y2="240.78" stroke="#111" stroke-width="1.5"/>
<line x1="35.3" y1="234.6" x2="40.1" y2="234.6" stroke="#111" stroke-width="1.5"/>
<text x="34.3" y="237.9" font-size="8.8" font-weight="normal" text-anchor="end" fill="#000" >400</text>
<line x1="69.1" y1="358.3" x2="69.1" y2="362.8" stroke="#111" stroke-width="1.4"/>
<text x="69.1" y="372.1" font-size="8.8" font-weight="normal" text-anchor="middle" fill="#000" >1</text>
<line x1="132.8" y1="358.3" x2="132.8" y2="362.8" stroke="#111" stroke-width="1.4"/>
<text x="132.8" y="372.1" font-size="8.8" font-weight="normal" text-anchor="middle" fill="#000" >3</text>
<line x1="196.5" y1="358.3" x2="196.5" y2="362.8" stroke="#111" stroke-width="1.4"/>
<text x="196.5" y="372.1" font-size="8.8" font-weight="normal" text-anchor="middle" fill="#000" >7</text>
<text x="132.6" y="387.5" font-size="9.5" font-weight="bold" text-anchor="middle" fill="#000" letter-spacing="0.27" stroke="#000" stroke-width="0.1">Days post-instillation</text>
<text x="133.3" y="217.5" font-size="11.8" font-weight="bold" text-anchor="middle" fill="#111" >AST</text>
<text x="1.5" y="223" font-size="19" font-weight="bold" text-anchor="start" fill="#000" >d</text>
<text transform="translate(15.6,296.8) rotate(-90)" x="0" y="0" font-size="9.8" font-weight="bold" text-anchor="middle" fill="#111">U/L</text>
<rect x="264.2" y="304.73" width="182.6" height="46.19" fill="#ff8ec4"/>
<rect x="264.2" y="335.48" width="182.6" height="6.33" fill="#dc70cc"/>
<line x1="275.95" y1="344.27" x2="275.95" y2="340.52" stroke="#111" stroke-width="1.5"/>
<line x1="272.95" y1="340.52" x2="278.95" y2="340.52" stroke="#111" stroke-width="1.6"/>
<rect x="270.3" y="344.27" width="11.3" height="13.53" fill="#ffffff" stroke="#000" stroke-width="1.8"/>
<line x1="293.2" y1="344.02" x2="293.2" y2="339.9" stroke="#111" stroke-width="1.5"/>
<line x1="290.2" y1="339.9" x2="296.2" y2="339.9" stroke="#111" stroke-width="1.6"/>
<rect x="287.55" y="344.02" width="11.3" height="13.78" fill="#b4b4b6" stroke="#000" stroke-width="1.8"/>
<line x1="310.45" y1="339.04" x2="310.45" y2="331.79" stroke="#111" stroke-width="1.5"/>
<line x1="307.45" y1="331.79" x2="313.45" y2="331.79" stroke="#111" stroke-width="1.6"/>
<rect x="304.8" y="339.04" width="11.3" height="18.76" fill="#000000" stroke="#000" stroke-width="1.8"/>
<line x1="339.65" y1="341.01" x2="339.65" y2="333.32" stroke="#111" stroke-width="1.5"/>
<line x1="336.65" y1="333.32" x2="342.65" y2="333.32" stroke="#111" stroke-width="1.6"/>
<rect x="334" y="341.01" width="11.3" height="16.79" fill="#ffffff" stroke="#000" stroke-width="1.8"/>
<line x1="356.9" y1="342.73" x2="356.9" y2="339.04" stroke="#111" stroke-width="1.5"/>
<line x1="353.9" y1="339.04" x2="359.9" y2="339.04" stroke="#111" stroke-width="1.6"/>
<rect x="351.25" y="342.73" width="11.3" height="15.07" fill="#b4b4b6" stroke="#000" stroke-width="1.8"/>
<line x1="374.15" y1="344.7" x2="374.15" y2="341.75" stroke="#111" stroke-width="1.5"/>
<line x1="371.15" y1="341.75" x2="377.15" y2="341.75" stroke="#111" stroke-width="1.6"/>
<rect x="368.5" y="344.7" width="11.3" height="13.1" fill="#000000" stroke="#000" stroke-width="1.8"/>
<line x1="403.35" y1="318.32" x2="403.35" y2="264.38" stroke="#111" stroke-width="1.5"/>
<line x1="400.35" y1="264.38" x2="406.35" y2="264.38" stroke="#111" stroke-width="1.6"/>
<rect x="397.7" y="318.32" width="11.3" height="39.48" fill="#ffffff" stroke="#000" stroke-width="1.8"/>
<line x1="420.6" y1="342.7" x2="420.6" y2="337.29" stroke="#111" stroke-width="1.5"/>
<line x1="417.6" y1="337.29" x2="423.6" y2="337.29" stroke="#111" stroke-width="1.6"/>
<rect x="414.95" y="342.7" width="11.3" height="15.1" fill="#b4b4b6" stroke="#000" stroke-width="1.8"/>
<line x1="437.85" y1="343.59" x2="437.85" y2="340.03" stroke="#111" stroke-width="1.5"/>
<line x1="434.85" y1="340.03" x2="440.85" y2="340.03" stroke="#111" stroke-width="1.6"/>
<rect x="432.2" y="343.59" width="11.3" height="14.21" fill="#000000" stroke="#000" stroke-width="1.8"/>
<line x1="264.2" y1="233.9" x2="264.2" y2="358.7" stroke="#111" stroke-width="2.1"/>
<line x1="260.7" y1="357.8" x2="449.2" y2="357.8" stroke="#111" stroke-width="2.1"/>
<clipPath id="c9"><rect x="262.7" y="304.23" width="184.6" height="47.19"/></clipPath>
<g clip-path="url(#c9)" stroke="#6a1c4c" fill="none"><line x1="275.95" y1="344.27" x2="275.95" y2="340.52" stroke-width="1.5"/><line x1="272.95" y1="340.52" x2="278.95" y2="340.52" stroke-width="1.6"/><rect x="270.3" y="344.27" width="11.3" height="13.53" fill="none" stroke-width="1.8"/><line x1="293.2" y1="344.02" x2="293.2" y2="339.9" stroke-width="1.5"/><line x1="290.2" y1="339.9" x2="296.2" y2="339.9" stroke-width="1.6"/><rect x="287.55" y="344.02" width="11.3" height="13.78" fill="none" stroke-width="1.8"/><line x1="310.45" y1="339.04" x2="310.45" y2="331.79" stroke-width="1.5"/><line x1="307.45" y1="331.79" x2="313.45" y2="331.79" stroke-width="1.6"/><line x1="339.65" y1="341.01" x2="339.65" y2="333.32" stroke-width="1.5"/><line x1="336.65" y1="333.32" x2="342.65" y2="333.32" stroke-width="1.6"/><rect x="334" y="341.01" width="11.3" height="16.79" fill="none" stroke-width="1.8"/><line x1="356.9" y1="342.73" x2="356.9" y2="339.04" stroke-width="1.5"/><line x1="353.9" y1="339.04" x2="359.9" y2="339.04" stroke-width="1.6"/><rect x="351.25" y="342.73" width="11.3" height="15.07" fill="none" stroke-width="1.8"/><line x1="374.15" y1="344.7" x2="374.15" y2="341.75" stroke-width="1.5"/><line x1="371.15" y1="341.75" x2="377.15" y2="341.75" stroke-width="1.6"/><line x1="403.35" y1="318.32" x2="403.35" y2="264.38" stroke-width="1.5"/><line x1="400.35" y1="264.38" x2="406.35" y2="264.38" stroke-width="1.6"/><rect x="397.7" y="318.32" width="11.3" height="39.48" fill="none" stroke-width="1.8"/><line x1="420.6" y1="342.7" x2="420.6" y2="337.29" stroke-width="1.5"/><line x1="417.6" y1="337.29" x2="423.6" y2="337.29" stroke-width="1.6"/><rect x="414.95" y="342.7" width="11.3" height="15.1" fill="none" stroke-width="1.8"/><line x1="437.85" y1="343.59" x2="437.85" y2="340.03" stroke-width="1.5"/><line x1="434.85" y1="340.03" x2="440.85" y2="340.03" stroke-width="1.6"/><line x1="264.2" y1="233.9" x2="264.2" y2="358.7" stroke-width="2.1"/><line x1="260.7" y1="357.8" x2="449.2" y2="357.8" stroke-width="2.1"/></g>
<clipPath id="c10"><rect x="262.7" y="334.98" width="184.6" height="7.33"/></clipPath>
<g clip-path="url(#c10)" stroke="#501a50" fill="none"><line x1="275.95" y1="344.27" x2="275.95" y2="340.52" stroke-width="1.5"/><line x1="272.95" y1="340.52" x2="278.95" y2="340.52" stroke-width="1.6"/><rect x="270.3" y="344.27" width="11.3" height="13.53" fill="none" stroke-width="1.8"/><line x1="293.2" y1="344.02" x2="293.2" y2="339.9" stroke-width="1.5"/><line x1="290.2" y1="339.9" x2="296.2" y2="339.9" stroke-width="1.6"/><rect x="287.55" y="344.02" width="11.3" height="13.78" fill="none" stroke-width="1.8"/><line x1="310.45" y1="339.04" x2="310.45" y2="331.79" stroke-width="1.5"/><line x1="307.45" y1="331.79" x2="313.45" y2="331.79" stroke-width="1.6"/><line x1="339.65" y1="341.01" x2="339.65" y2="333.32" stroke-width="1.5"/><line x1="336.65" y1="333.32" x2="342.65" y2="333.32" stroke-width="1.6"/><rect x="334" y="341.01" width="11.3" height="16.79" fill="none" stroke-width="1.8"/><line x1="356.9" y1="342.73" x2="356.9" y2="339.04" stroke-width="1.5"/><line x1="353.9" y1="339.04" x2="359.9" y2="339.04" stroke-width="1.6"/><rect x="351.25" y="342.73" width="11.3" height="15.07" fill="none" stroke-width="1.8"/><line x1="374.15" y1="344.7" x2="374.15" y2="341.75" stroke-width="1.5"/><line x1="371.15" y1="341.75" x2="377.15" y2="341.75" stroke-width="1.6"/><line x1="403.35" y1="318.32" x2="403.35" y2="264.38" stroke-width="1.5"/><line x1="400.35" y1="264.38" x2="406.35" y2="264.38" stroke-width="1.6"/><rect x="397.7" y="318.32" width="11.3" height="39.48" fill="none" stroke-width="1.8"/><line x1="420.6" y1="342.7" x2="420.6" y2="337.29" stroke-width="1.5"/><line x1="417.6" y1="337.29" x2="423.6" y2="337.29" stroke-width="1.6"/><rect x="414.95" y="342.7" width="11.3" height="15.1" fill="none" stroke-width="1.8"/><line x1="437.85" y1="343.59" x2="437.85" y2="340.03" stroke-width="1.5"/><line x1="434.85" y1="340.03" x2="440.85" y2="340.03" stroke-width="1.6"/><line x1="264.2" y1="233.9" x2="264.2" y2="358.7" stroke-width="2.1"/><line x1="260.7" y1="357.8" x2="449.2" y2="357.8" stroke-width="2.1"/></g>
<line x1="259.4" y1="357.8" x2="264.2" y2="357.8" stroke="#111" stroke-width="1.5"/>
<text x="258.4" y="361.1" font-size="8.8" font-weight="normal" text-anchor="end" fill="#000" >0</text>
<line x1="261.5" y1="351.65" x2="264.2" y2="351.65" stroke="#111" stroke-width="1.5"/>
<line x1="261.5" y1="345.5" x2="264.2" y2="345.5" stroke="#111" stroke-width="1.5"/>
<line x1="261.5" y1="339.35" x2="264.2" y2="339.35" stroke="#111" stroke-width="1.5"/>
<line x1="261.5" y1="333.2" x2="264.2" y2="333.2" stroke="#111" stroke-width="1.5"/>
<line x1="259.4" y1="327.05" x2="264.2" y2="327.05" stroke="#111" stroke-width="1.5"/>
<text x="258.4" y="330.35" font-size="8.8" font-weight="normal" text-anchor="end" fill="#000" >50</text>
<line x1="261.5" y1="320.9" x2="264.2" y2="320.9" stroke="#111" stroke-width="1.5"/>
<line x1="261.5" y1="314.75" x2="264.2" y2="314.75" stroke="#111" stroke-width="1.5"/>
<line x1="261.5" y1="308.6" x2="264.2" y2="308.6" stroke="#111" stroke-width="1.5"/>
<line x1="261.5" y1="302.45" x2="264.2" y2="302.45" stroke="#111" stroke-width="1.5"/>
<line x1="259.4" y1="296.3" x2="264.2" y2="296.3" stroke="#111" stroke-width="1.5"/>
<text x="258.4" y="299.6" font-size="8.8" font-weight="normal" text-anchor="end" fill="#000" >100</text>
<line x1="261.5" y1="290.15" x2="264.2" y2="290.15" stroke="#111" stroke-width="1.5"/>
<line x1="261.5" y1="284" x2="264.2" y2="284" stroke="#111" stroke-width="1.5"/>
<line x1="261.5" y1="277.85" x2="264.2" y2="277.85" stroke="#111" stroke-width="1.5"/>
<line x1="261.5" y1="271.7" x2="264.2" y2="271.7" stroke="#111" stroke-width="1.5"/>
<line x1="259.4" y1="265.55" x2="264.2" y2="265.55" stroke="#111" stroke-width="1.5"/>
<text x="258.4" y="268.85" font-size="8.8" font-weight="normal" text-anchor="end" fill="#000" >150</text>
<line x1="261.5" y1="259.4" x2="264.2" y2="259.4" stroke="#111" stroke-width="1.5"/>
<line x1="261.5" y1="253.25" x2="264.2" y2="253.25" stroke="#111" stroke-width="1.5"/>
<line x1="261.5" y1="247.1" x2="264.2" y2="247.1" stroke="#111" stroke-width="1.5"/>
<line x1="261.5" y1="240.95" x2="264.2" y2="240.95" stroke="#111" stroke-width="1.5"/>
<line x1="259.4" y1="234.8" x2="264.2" y2="234.8" stroke="#111" stroke-width="1.5"/>
<text x="258.4" y="238.1" font-size="8.8" font-weight="normal" text-anchor="end" fill="#000" >200</text>
<line x1="293.2" y1="357.8" x2="293.2" y2="362.3" stroke="#111" stroke-width="1.4"/>
<text x="293.2" y="371.6" font-size="8.8" font-weight="normal" text-anchor="middle" fill="#000" >1</text>
<line x1="356.9" y1="357.8" x2="356.9" y2="362.3" stroke="#111" stroke-width="1.4"/>
<text x="356.9" y="371.6" font-size="8.8" font-weight="normal" text-anchor="middle" fill="#000" >3</text>
<line x1="420.6" y1="357.8" x2="420.6" y2="362.3" stroke="#111" stroke-width="1.4"/>
<text x="420.6" y="371.6" font-size="8.8" font-weight="normal" text-anchor="middle" fill="#000" >7</text>
<text x="356.7" y="387.5" font-size="9.5" font-weight="bold" text-anchor="middle" fill="#000" letter-spacing="0.27" stroke="#000" stroke-width="0.1">Days post-instillation</text>
<text x="357.3" y="217.5" font-size="11.8" font-weight="bold" text-anchor="middle" fill="#111" >ALT</text>
<text x="231" y="223" font-size="19" font-weight="bold" text-anchor="start" fill="#000" >e</text>
<text transform="translate(239.4,296.5) rotate(-90)" x="0" y="0" font-size="9.8" font-weight="bold" text-anchor="middle" fill="#111">U/L</text>
<rect x="483.2" y="295.37" width="182.6" height="41.13" fill="#ff8ec4"/>
<rect x="483.2" y="300.48" width="182.6" height="3.1" fill="#dc70cc"/>
<line x1="494.95" y1="301.1" x2="494.95" y2="293.51" stroke="#111" stroke-width="1.5"/>
<line x1="491.95" y1="293.51" x2="497.95" y2="293.51" stroke="#111" stroke-width="1.6"/>
<rect x="489.3" y="301.1" width="11.3" height="57.3" fill="#ffffff" stroke="#000" stroke-width="1.8"/>
<line x1="512.2" y1="303.88" x2="512.2" y2="282.67" stroke="#111" stroke-width="1.5"/>
<line x1="509.2" y1="282.67" x2="515.2" y2="282.67" stroke="#111" stroke-width="1.6"/>
<rect x="506.55" y="303.88" width="11.3" height="54.52" fill="#b4b4b6" stroke="#000" stroke-width="1.8"/>
<line x1="529.45" y1="300.48" x2="529.45" y2="289.64" stroke="#111" stroke-width="1.5"/>
<line x1="526.45" y1="289.64" x2="532.45" y2="289.64" stroke="#111" stroke-width="1.6"/>
<rect x="523.8" y="300.48" width="11.3" height="57.92" fill="#000000" stroke="#000" stroke-width="1.8"/>
<line x1="558.65" y1="294.44" x2="558.65" y2="276.16" stroke="#111" stroke-width="1.5"/>
<line x1="555.65" y1="276.16" x2="561.65" y2="276.16" stroke="#111" stroke-width="1.6"/>
<rect x="553" y="294.44" width="11.3" height="63.96" fill="#ffffff" stroke="#000" stroke-width="1.8"/>
<line x1="575.9" y1="286.38" x2="575.9" y2="263" stroke="#111" stroke-width="1.5"/>
<line x1="572.9" y1="263" x2="578.9" y2="263" stroke="#111" stroke-width="1.6"/>
<rect x="570.25" y="286.38" width="11.3" height="72.02" fill="#b4b4b6" stroke="#000" stroke-width="1.8"/>
<line x1="593.15" y1="303.88" x2="593.15" y2="286.23" stroke="#111" stroke-width="1.5"/>
<line x1="590.15" y1="286.23" x2="596.15" y2="286.23" stroke="#111" stroke-width="1.6"/>
<rect x="587.5" y="303.88" width="11.3" height="54.52" fill="#000000" stroke="#000" stroke-width="1.8"/>
<line x1="622.35" y1="294.9" x2="622.35" y2="287.78" stroke="#111" stroke-width="1.5"/>
<line x1="619.35" y1="287.78" x2="625.35" y2="287.78" stroke="#111" stroke-width="1.6"/>
<rect x="616.7" y="294.9" width="11.3" height="63.5" fill="#ffffff" stroke="#000" stroke-width="1.8"/>
<line x1="639.6" y1="286.38" x2="639.6" y2="268.11" stroke="#111" stroke-width="1.5"/>
<line x1="636.6" y1="268.11" x2="642.6" y2="268.11" stroke="#111" stroke-width="1.6"/>
<rect x="633.95" y="286.38" width="11.3" height="72.02" fill="#b4b4b6" stroke="#000" stroke-width="1.8"/>
<line x1="656.85" y1="292.27" x2="656.85" y2="282.67" stroke="#111" stroke-width="1.5"/>
<line x1="653.85" y1="282.67" x2="659.85" y2="282.67" stroke="#111" stroke-width="1.6"/>
<rect x="651.2" y="292.27" width="11.3" height="66.13" fill="#000000" stroke="#000" stroke-width="1.8"/>
<line x1="483.2" y1="233.6" x2="483.2" y2="359.3" stroke="#111" stroke-width="2.1"/>
<line x1="479.7" y1="358.4" x2="668.2" y2="358.4" stroke="#111" stroke-width="2.1"/>
<clipPath id="c11"><rect x="481.7" y="294.87" width="184.6" height="42.13"/></clipPath>
<g clip-path="url(#c11)" stroke="#6a1c4c" fill="none"><line x1="494.95" y1="301.1" x2="494.95" y2="293.51" stroke-width="1.5"/><line x1="491.95" y1="293.51" x2="497.95" y2="293.51" stroke-width="1.6"/><rect x="489.3" y="301.1" width="11.3" height="57.3" fill="none" stroke-width="1.8"/><line x1="512.2" y1="303.88" x2="512.2" y2="282.67" stroke-width="1.5"/><line x1="509.2" y1="282.67" x2="515.2" y2="282.67" stroke-width="1.6"/><rect x="506.55" y="303.88" width="11.3" height="54.52" fill="none" stroke-width="1.8"/><line x1="529.45" y1="300.48" x2="529.45" y2="289.64" stroke-width="1.5"/><line x1="526.45" y1="289.64" x2="532.45" y2="289.64" stroke-width="1.6"/><line x1="558.65" y1="294.44" x2="558.65" y2="276.16" stroke-width="1.5"/><line x1="555.65" y1="276.16" x2="561.65" y2="276.16" stroke-width="1.6"/><rect x="553" y="294.44" width="11.3" height="63.96" fill="none" stroke-width="1.8"/><line x1="575.9" y1="286.38" x2="575.9" y2="263" stroke-width="1.5"/><line x1="572.9" y1="263" x2="578.9" y2="263" stroke-width="1.6"/><rect x="570.25" y="286.38" width="11.3" height="72.02" fill="none" stroke-width="1.8"/><line x1="593.15" y1="303.88" x2="593.15" y2="286.23" stroke-width="1.5"/><line x1="590.15" y1="286.23" x2="596.15" y2="286.23" stroke-width="1.6"/><line x1="622.35" y1="294.9" x2="622.35" y2="287.78" stroke-width="1.5"/><line x1="619.35" y1="287.78" x2="625.35" y2="287.78" stroke-width="1.6"/><rect x="616.7" y="294.9" width="11.3" height="63.5" fill="none" stroke-width="1.8"/><line x1="639.6" y1="286.38" x2="639.6" y2="268.11" stroke-width="1.5"/><line x1="636.6" y1="268.11" x2="642.6" y2="268.11" stroke-width="1.6"/><rect x="633.95" y="286.38" width="11.3" height="72.02" fill="none" stroke-width="1.8"/><line x1="656.85" y1="292.27" x2="656.85" y2="282.67" stroke-width="1.5"/><line x1="653.85" y1="282.67" x2="659.85" y2="282.67" stroke-width="1.6"/><line x1="483.2" y1="233.6" x2="483.2" y2="359.3" stroke-width="2.1"/><line x1="479.7" y1="358.4" x2="668.2" y2="358.4" stroke-width="2.1"/></g>
<clipPath id="c12"><rect x="481.7" y="299.98" width="184.6" height="4.1"/></clipPath>
<g clip-path="url(#c12)" stroke="#501a50" fill="none"><line x1="494.95" y1="301.1" x2="494.95" y2="293.51" stroke-width="1.5"/><line x1="491.95" y1="293.51" x2="497.95" y2="293.51" stroke-width="1.6"/><rect x="489.3" y="301.1" width="11.3" height="57.3" fill="none" stroke-width="1.8"/><line x1="512.2" y1="303.88" x2="512.2" y2="282.67" stroke-width="1.5"/><line x1="509.2" y1="282.67" x2="515.2" y2="282.67" stroke-width="1.6"/><rect x="506.55" y="303.88" width="11.3" height="54.52" fill="none" stroke-width="1.8"/><line x1="529.45" y1="300.48" x2="529.45" y2="289.64" stroke-width="1.5"/><line x1="526.45" y1="289.64" x2="532.45" y2="289.64" stroke-width="1.6"/><line x1="558.65" y1="294.44" x2="558.65" y2="276.16" stroke-width="1.5"/><line x1="555.65" y1="276.16" x2="561.65" y2="276.16" stroke-width="1.6"/><rect x="553" y="294.44" width="11.3" height="63.96" fill="none" stroke-width="1.8"/><line x1="575.9" y1="286.38" x2="575.9" y2="263" stroke-width="1.5"/><line x1="572.9" y1="263" x2="578.9" y2="263" stroke-width="1.6"/><rect x="570.25" y="286.38" width="11.3" height="72.02" fill="none" stroke-width="1.8"/><line x1="593.15" y1="303.88" x2="593.15" y2="286.23" stroke-width="1.5"/><line x1="590.15" y1="286.23" x2="596.15" y2="286.23" stroke-width="1.6"/><line x1="622.35" y1="294.9" x2="622.35" y2="287.78" stroke-width="1.5"/><line x1="619.35" y1="287.78" x2="625.35" y2="287.78" stroke-width="1.6"/><rect x="616.7" y="294.9" width="11.3" height="63.5" fill="none" stroke-width="1.8"/><line x1="639.6" y1="286.38" x2="639.6" y2="268.11" stroke-width="1.5"/><line x1="636.6" y1="268.11" x2="642.6" y2="268.11" stroke-width="1.6"/><rect x="633.95" y="286.38" width="11.3" height="72.02" fill="none" stroke-width="1.8"/><line x1="656.85" y1="292.27" x2="656.85" y2="282.67" stroke-width="1.5"/><line x1="653.85" y1="282.67" x2="659.85" y2="282.67" stroke-width="1.6"/><line x1="483.2" y1="233.6" x2="483.2" y2="359.3" stroke-width="2.1"/><line x1="479.7" y1="358.4" x2="668.2" y2="358.4" stroke-width="2.1"/></g>
<line x1="478.4" y1="358.4" x2="483.2" y2="358.4" stroke="#111" stroke-width="1.5"/>
<text x="477.4" y="361.7" font-size="8.8" font-weight="normal" text-anchor="end" fill="#000" >0</text>
<line x1="480.5" y1="352.2" x2="483.2" y2="352.2" stroke="#111" stroke-width="1.5"/>
<line x1="480.5" y1="346.01" x2="483.2" y2="346.01" stroke="#111" stroke-width="1.5"/>
<line x1="480.5" y1="339.81" x2="483.2" y2="339.81" stroke="#111" stroke-width="1.5"/>
<line x1="480.5" y1="333.62" x2="483.2" y2="333.62" stroke="#111" stroke-width="1.5"/>
<line x1="478.4" y1="327.42" x2="483.2" y2="327.42" stroke="#111" stroke-width="1.5"/>
<text x="477.4" y="330.72" font-size="8.8" font-weight="normal" text-anchor="end" fill="#000" >10</text>
<line x1="480.5" y1="321.23" x2="483.2" y2="321.23" stroke="#111" stroke-width="1.5"/>
<line x1="480.5" y1="315.03" x2="483.2" y2="315.03" stroke="#111" stroke-width="1.5"/>
<line x1="480.5" y1="308.84" x2="483.2" y2="308.84" stroke="#111" stroke-width="1.5"/>
<line x1="480.5" y1="302.64" x2="483.2" y2="302.64" stroke="#111" stroke-width="1.5"/>
<line x1="478.4" y1="296.45" x2="483.2" y2="296.45" stroke="#111" stroke-width="1.5"/>
<text x="477.4" y="299.75" font-size="8.8" font-weight="normal" text-anchor="end" fill="#000" >20</text>
<line x1="480.5" y1="290.25" x2="483.2" y2="290.25" stroke="#111" stroke-width="1.5"/>
<line x1="480.5" y1="284.06" x2="483.2" y2="284.06" stroke="#111" stroke-width="1.5"/>
<line x1="480.5" y1="277.87" x2="483.2" y2="277.87" stroke="#111" stroke-width="1.5"/>
<line x1="480.5" y1="271.67" x2="483.2" y2="271.67" stroke="#111" stroke-width="1.5"/>
<line x1="478.4" y1="265.48" x2="483.2" y2="265.48" stroke="#111" stroke-width="1.5"/>
<text x="477.4" y="268.78" font-size="8.8" font-weight="normal" text-anchor="end" fill="#000" >30</text>
<line x1="480.5" y1="259.28" x2="483.2" y2="259.28" stroke="#111" stroke-width="1.5"/>
<line x1="480.5" y1="253.09" x2="483.2" y2="253.09" stroke="#111" stroke-width="1.5"/>
<line x1="480.5" y1="246.89" x2="483.2" y2="246.89" stroke="#111" stroke-width="1.5"/>
<line x1="480.5" y1="240.69" x2="483.2" y2="240.69" stroke="#111" stroke-width="1.5"/>
<line x1="478.4" y1="234.5" x2="483.2" y2="234.5" stroke="#111" stroke-width="1.5"/>
<text x="477.4" y="237.8" font-size="8.8" font-weight="normal" text-anchor="end" fill="#000" >40</text>
<line x1="512.2" y1="358.4" x2="512.2" y2="362.9" stroke="#111" stroke-width="1.4"/>
<text x="512.2" y="372.2" font-size="8.8" font-weight="normal" text-anchor="middle" fill="#000" >1</text>
<line x1="575.9" y1="358.4" x2="575.9" y2="362.9" stroke="#111" stroke-width="1.4"/>
<text x="575.9" y="372.2" font-size="8.8" font-weight="normal" text-anchor="middle" fill="#000" >3</text>
<line x1="639.6" y1="358.4" x2="639.6" y2="362.9" stroke="#111" stroke-width="1.4"/>
<text x="639.6" y="372.2" font-size="8.8" font-weight="normal" text-anchor="middle" fill="#000" >7</text>
<text x="575.7" y="387.5" font-size="9.5" font-weight="bold" text-anchor="middle" fill="#000" letter-spacing="0.27" stroke="#000" stroke-width="0.1">Days post-instillation</text>
<text x="576" y="217.5" font-size="11.8" font-weight="bold" text-anchor="middle" fill="#111" >BUN</text>
<text x="452" y="223" font-size="19" font-weight="bold" text-anchor="start" fill="#000" >f</text>
<text transform="translate(464.3,296.9) rotate(-90)" x="0" y="0" font-size="9.8" font-weight="bold" text-anchor="middle" fill="#111">mg/dL</text>
<rect x="40.9" y="465.24" width="198.3" height="53.48" fill="#e472c6"/>
<line x1="52.85" y1="516.05" x2="52.85" y2="490.91" stroke="#111" stroke-width="1.5"/>
<line x1="49.85" y1="490.91" x2="55.85" y2="490.91" stroke="#111" stroke-width="1.6"/>
<rect x="46.7" y="516.05" width="12.3" height="56.15" fill="#ffffff" stroke="#000" stroke-width="1.8"/>
<line x1="71.7" y1="528.61" x2="71.7" y2="499.47" stroke="#111" stroke-width="1.5"/>
<line x1="68.7" y1="499.47" x2="74.7" y2="499.47" stroke="#111" stroke-width="1.6"/>
<rect x="65.55" y="528.61" width="12.3" height="43.59" fill="#b4b4b6" stroke="#000" stroke-width="1.8"/>
<line x1="90.55" y1="507.41" x2="90.55" y2="470.51" stroke="#111" stroke-width="1.5"/>
<line x1="87.55" y1="470.51" x2="93.55" y2="470.51" stroke="#111" stroke-width="1.6"/>
<rect x="84.4" y="507.41" width="12.3" height="64.79" fill="#000000" stroke="#000" stroke-width="1.8"/>
<line x1="121.35" y1="500.8" x2="121.35" y2="468.45" stroke="#111" stroke-width="1.5"/>
<line x1="118.35" y1="468.45" x2="124.35" y2="468.45" stroke="#111" stroke-width="1.6"/>
<rect x="115.2" y="500.8" width="12.3" height="71.4" fill="#ffffff" stroke="#000" stroke-width="1.8"/>
<line x1="140.2" y1="508.29" x2="140.2" y2="492.78" stroke="#111" stroke-width="1.5"/>
<line x1="137.2" y1="492.78" x2="143.2" y2="492.78" stroke="#111" stroke-width="1.6"/>
<rect x="134.05" y="508.29" width="12.3" height="63.91" fill="#b4b4b6" stroke="#000" stroke-width="1.8"/>
<line x1="159.05" y1="536.69" x2="159.05" y2="510.75" stroke="#111" stroke-width="1.5"/>
<line x1="156.05" y1="510.75" x2="162.05" y2="510.75" stroke="#111" stroke-width="1.6"/>
<rect x="152.9" y="536.69" width="12.3" height="35.51" fill="#000000" stroke="#000" stroke-width="1.8"/>
<line x1="189.85" y1="508.29" x2="189.85" y2="494.65" stroke="#111" stroke-width="1.5"/>
<line x1="186.85" y1="494.65" x2="192.85" y2="494.65" stroke="#111" stroke-width="1.6"/>
<rect x="183.7" y="508.29" width="12.3" height="63.91" fill="#ffffff" stroke="#000" stroke-width="1.8"/>
<line x1="208.7" y1="501.5" x2="208.7" y2="479.31" stroke="#111" stroke-width="1.5"/>
<line x1="205.7" y1="479.31" x2="211.7" y2="479.31" stroke="#111" stroke-width="1.6"/>
<rect x="202.55" y="501.5" width="12.3" height="70.7" fill="#b4b4b6" stroke="#000" stroke-width="1.8"/>
<line x1="227.55" y1="513.91" x2="227.55" y2="499.47" stroke="#111" stroke-width="1.5"/>
<line x1="224.55" y1="499.47" x2="230.55" y2="499.47" stroke="#111" stroke-width="1.6"/>
<rect x="221.4" y="513.91" width="12.3" height="58.29" fill="#000000" stroke="#000" stroke-width="1.8"/>
<line x1="40.9" y1="437.6" x2="40.9" y2="573.1" stroke="#111" stroke-width="2.1"/>
<line x1="37.4" y1="572.2" x2="240.3" y2="572.2" stroke="#111" stroke-width="2.1"/>
<clipPath id="c13"><rect x="39.4" y="464.74" width="200.3" height="54.48"/></clipPath>
<g clip-path="url(#c13)" stroke="#501a4a" fill="none"><line x1="52.85" y1="516.05" x2="52.85" y2="490.91" stroke-width="1.5"/><line x1="49.85" y1="490.91" x2="55.85" y2="490.91" stroke-width="1.6"/><rect x="46.7" y="516.05" width="12.3" height="56.15" fill="none" stroke-width="1.8"/><line x1="71.7" y1="528.61" x2="71.7" y2="499.47" stroke-width="1.5"/><line x1="68.7" y1="499.47" x2="74.7" y2="499.47" stroke-width="1.6"/><rect x="65.55" y="528.61" width="12.3" height="43.59" fill="none" stroke-width="1.8"/><line x1="90.55" y1="507.41" x2="90.55" y2="470.51" stroke-width="1.5"/><line x1="87.55" y1="470.51" x2="93.55" y2="470.51" stroke-width="1.6"/><line x1="121.35" y1="500.8" x2="121.35" y2="468.45" stroke-width="1.5"/><line x1="118.35" y1="468.45" x2="124.35" y2="468.45" stroke-width="1.6"/><rect x="115.2" y="500.8" width="12.3" height="71.4" fill="none" stroke-width="1.8"/><line x1="140.2" y1="508.29" x2="140.2" y2="492.78" stroke-width="1.5"/><line x1="137.2" y1="492.78" x2="143.2" y2="492.78" stroke-width="1.6"/><rect x="134.05" y="508.29" width="12.3" height="63.91" fill="none" stroke-width="1.8"/><line x1="159.05" y1="536.69" x2="159.05" y2="510.75" stroke-width="1.5"/><line x1="156.05" y1="510.75" x2="162.05" y2="510.75" stroke-width="1.6"/><line x1="189.85" y1="508.29" x2="189.85" y2="494.65" stroke-width="1.5"/><line x1="186.85" y1="494.65" x2="192.85" y2="494.65" stroke-width="1.6"/><rect x="183.7" y="508.29" width="12.3" height="63.91" fill="none" stroke-width="1.8"/><line x1="208.7" y1="501.5" x2="208.7" y2="479.31" stroke-width="1.5"/><line x1="205.7" y1="479.31" x2="211.7" y2="479.31" stroke-width="1.6"/><rect x="202.55" y="501.5" width="12.3" height="70.7" fill="none" stroke-width="1.8"/><line x1="227.55" y1="513.91" x2="227.55" y2="499.47" stroke-width="1.5"/><line x1="224.55" y1="499.47" x2="230.55" y2="499.47" stroke-width="1.6"/><line x1="40.9" y1="437.6" x2="40.9" y2="573.1" stroke-width="2.1"/><line x1="37.4" y1="572.2" x2="240.3" y2="572.2" stroke-width="2.1"/></g>
<line x1="36.1" y1="572.2" x2="40.9" y2="572.2" stroke="#111" stroke-width="1.5"/>
<text x="34.58" y="575.8" font-size="9.592000000000002" font-weight="normal" text-anchor="end" fill="#000" >0.0</text>
<line x1="38.2" y1="566.85" x2="40.9" y2="566.85" stroke="#111" stroke-width="1.5"/>
<line x1="38.2" y1="561.5" x2="40.9" y2="561.5" stroke="#111" stroke-width="1.5"/>
<line x1="38.2" y1="556.16" x2="40.9" y2="556.16" stroke="#111" stroke-width="1.5"/>
<line x1="38.2" y1="550.81" x2="40.9" y2="550.81" stroke="#111" stroke-width="1.5"/>
<line x1="36.1" y1="545.46" x2="40.9" y2="545.46" stroke="#111" stroke-width="1.5"/>
<text x="34.58" y="549.06" font-size="9.592000000000002" font-weight="normal" text-anchor="end" fill="#000" >0.1</text>
<line x1="38.2" y1="540.11" x2="40.9" y2="540.11" stroke="#111" stroke-width="1.5"/>
<line x1="38.2" y1="534.76" x2="40.9" y2="534.76" stroke="#111" stroke-width="1.5"/>
<line x1="38.2" y1="529.42" x2="40.9" y2="529.42" stroke="#111" stroke-width="1.5"/>
<line x1="38.2" y1="524.07" x2="40.9" y2="524.07" stroke="#111" stroke-width="1.5"/>
<line x1="36.1" y1="518.72" x2="40.9" y2="518.72" stroke="#111" stroke-width="1.5"/>
<text x="34.58" y="522.32" font-size="9.592000000000002" font-weight="normal" text-anchor="end" fill="#000" >0.2</text>
<line x1="38.2" y1="513.37" x2="40.9" y2="513.37" stroke="#111" stroke-width="1.5"/>
<line x1="38.2" y1="508.02" x2="40.9" y2="508.02" stroke="#111" stroke-width="1.5"/>
<line x1="38.2" y1="502.68" x2="40.9" y2="502.68" stroke="#111" stroke-width="1.5"/>
<line x1="38.2" y1="497.33" x2="40.9" y2="497.33" stroke="#111" stroke-width="1.5"/>
<line x1="36.1" y1="491.98" x2="40.9" y2="491.98" stroke="#111" stroke-width="1.5"/>
<text x="34.58" y="495.58" font-size="9.592000000000002" font-weight="normal" text-anchor="end" fill="#000" >0.3</text>
<line x1="38.2" y1="486.63" x2="40.9" y2="486.63" stroke="#111" stroke-width="1.5"/>
<line x1="38.2" y1="481.28" x2="40.9" y2="481.28" stroke="#111" stroke-width="1.5"/>
<line x1="38.2" y1="475.94" x2="40.9" y2="475.94" stroke="#111" stroke-width="1.5"/>
<line x1="38.2" y1="470.59" x2="40.9" y2="470.59" stroke="#111" stroke-width="1.5"/>
<line x1="36.1" y1="465.24" x2="40.9" y2="465.24" stroke="#111" stroke-width="1.5"/>
<text x="34.58" y="468.84" font-size="9.592000000000002" font-weight="normal" text-anchor="end" fill="#000" >0.4</text>
<line x1="38.2" y1="459.89" x2="40.9" y2="459.89" stroke="#111" stroke-width="1.5"/>
<line x1="38.2" y1="454.54" x2="40.9" y2="454.54" stroke="#111" stroke-width="1.5"/>
<line x1="38.2" y1="449.2" x2="40.9" y2="449.2" stroke="#111" stroke-width="1.5"/>
<line x1="38.2" y1="443.85" x2="40.9" y2="443.85" stroke="#111" stroke-width="1.5"/>
<line x1="36.1" y1="438.5" x2="40.9" y2="438.5" stroke="#111" stroke-width="1.5"/>
<text x="34.58" y="442.1" font-size="9.592000000000002" font-weight="normal" text-anchor="end" fill="#000" >0.5</text>
<line x1="71.7" y1="572.2" x2="71.7" y2="576.7" stroke="#111" stroke-width="1.4"/>
<text x="71.7" y="587.24" font-size="9.592000000000002" font-weight="normal" text-anchor="middle" fill="#000" >1</text>
<line x1="140.2" y1="572.2" x2="140.2" y2="576.7" stroke="#111" stroke-width="1.4"/>
<text x="140.2" y="587.24" font-size="9.592000000000002" font-weight="normal" text-anchor="middle" fill="#000" >3</text>
<line x1="208.7" y1="572.2" x2="208.7" y2="576.7" stroke="#111" stroke-width="1.4"/>
<text x="208.7" y="587.24" font-size="9.592000000000002" font-weight="normal" text-anchor="middle" fill="#000" >7</text>
<text x="140.6" y="603.6" font-size="10.355" font-weight="bold" text-anchor="middle" fill="#000" letter-spacing="0.29" stroke="#000" stroke-width="0.1">Days post-instillation</text>
<text x="140.4" y="420.2" font-size="11.8" font-weight="bold" text-anchor="middle" fill="#111" >Cr</text>
<text x="1.5" y="422" font-size="19" font-weight="bold" text-anchor="start" fill="#000" >g</text>
<text transform="translate(18,505.9) rotate(-90)" x="0" y="0" font-size="10.7" font-weight="bold" text-anchor="middle" fill="#111">mg/dL</text>
<g stroke="#1a1a1a" stroke-width="1.75" fill="none">
<rect x="260" y="443.8" width="214.8" height="125.80000000000001"/>
<line x1="361.8" y1="443.8" x2="361.8" y2="569.6"/>
<line x1="399.2" y1="470.8" x2="399.2" y2="569.6"/>
<line x1="436.9" y1="470.8" x2="436.9" y2="569.6"/>
<line x1="361.8" y1="470.8" x2="474.8" y2="470.8"/>
<line x1="260" y1="497.2" x2="474.8" y2="497.2"/>
<line x1="260" y1="521.8" x2="474.8" y2="521.8"/>
<line x1="260" y1="545.9" x2="474.8" y2="545.9"/>
</g>
<text x="418.3" y="461" font-size="10.5" font-weight="normal" text-anchor="middle" fill="#111" >Days post instillation</text>
<text x="380.5" y="488.5" font-size="10.5" font-weight="normal" text-anchor="middle" fill="#111" >1</text>
<text x="418.05" y="488.5" font-size="10.5" font-weight="normal" text-anchor="middle" fill="#111" >3</text>
<text x="455.85" y="488.5" font-size="10.5" font-weight="normal" text-anchor="middle" fill="#111" >7</text>
<rect x="266.8" y="505.7" width="14.6" height="7.6" rx="1.5" fill="#fff" stroke="#111" stroke-width="1.5"/>
<text x="289.5" y="513.3" font-size="10.5" font-weight="normal" text-anchor="start" fill="#111" >PBS</text>
<text x="380.5" y="513.7" font-size="10.5" font-weight="normal" text-anchor="middle" fill="#111" ><tspan font-style="italic">n</tspan>=11</text>
<text x="418.05" y="513.7" font-size="10.5" font-weight="normal" text-anchor="middle" fill="#111" ><tspan font-style="italic">n</tspan>=12</text>
<text x="455.85" y="513.7" font-size="10.5" font-weight="normal" text-anchor="middle" fill="#111" ><tspan font-style="italic">n</tspan>=12</text>
<rect x="266.8" y="529.9" width="14.6" height="7.6" rx="1.5" fill="#b4b4b6" stroke="#111" stroke-width="1.5"/>
<text x="289.5" y="537.5" font-size="10.5" font-weight="normal" text-anchor="start" fill="#111" >QD</text>
<text x="380.5" y="537.9" font-size="10.5" font-weight="normal" text-anchor="middle" fill="#111" ><tspan font-style="italic">n</tspan>=6</text>
<text x="418.05" y="537.9" font-size="10.5" font-weight="normal" text-anchor="middle" fill="#111" ><tspan font-style="italic">n</tspan>=7</text>
<text x="455.85" y="537.9" font-size="10.5" font-weight="normal" text-anchor="middle" fill="#111" ><tspan font-style="italic">n</tspan>=6</text>
<rect x="266.8" y="553.9" width="14.6" height="7.6" rx="1.5" fill="#000" stroke="#111" stroke-width="1.5"/>
<text x="289.5" y="561.5" font-size="10.5" font-weight="normal" text-anchor="start" fill="#111" >Anti-CD47-QD</text>
<text x="380.5" y="561.9" font-size="10.5" font-weight="normal" text-anchor="middle" fill="#111" ><tspan font-style="italic">n</tspan>=6</text>
<text x="418.05" y="561.9" font-size="10.5" font-weight="normal" text-anchor="middle" fill="#111" ><tspan font-style="italic">n</tspan>=6</text>
<text x="455.85" y="561.9" font-size="10.5" font-weight="normal" text-anchor="middle" fill="#111" ><tspan font-style="italic">n</tspan>=8</text>
</g></svg>
</body></html>
